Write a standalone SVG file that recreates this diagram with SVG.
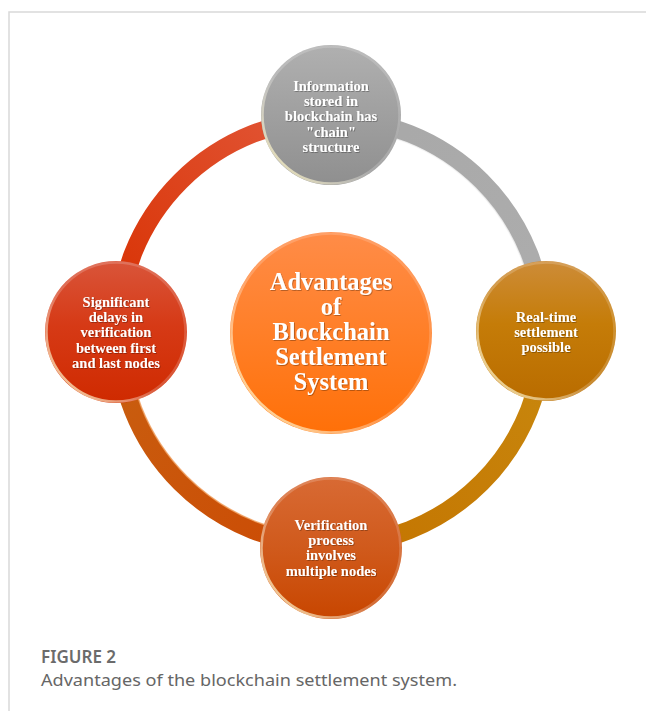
<svg xmlns="http://www.w3.org/2000/svg" width="646" height="711" viewBox="0 0 646 711">
<style>
.frame{stroke:#d9d9d9;stroke-width:1.5;fill:none}
.arc{fill:none;stroke-width:18;stroke-linecap:butt}
.hl{fill:none;stroke-width:1.5;opacity:0.8}
.lbl{font-family:"Liberation Serif","Times New Roman",serif;font-weight:bold;fill:#ffffff;text-anchor:middle;font-size:14.5px}
.big{font-size:24.5px}
.rim{fill:none;stroke-width:2.5}
.fig{font-family:"Noto Sans","Open Sans",sans-serif;font-size:17px;font-weight:600;fill:#6b6b6b}
.cap{font-family:"Noto Sans","Open Sans",sans-serif;font-size:16px;fill:#666666}
</style>
<defs>
<linearGradient id="gGray" x1="0" y1="0" x2="0" y2="1"><stop offset="0" stop-color="#b0b0b0"/><stop offset="1" stop-color="#8f8f8f"/></linearGradient>
<linearGradient id="gRed" x1="0" y1="0" x2="0" y2="1"><stop offset="0" stop-color="#d9553a"/><stop offset="0.45" stop-color="#d63a16"/><stop offset="1" stop-color="#cf2a00"/></linearGradient>
<linearGradient id="gGold" x1="0" y1="0" x2="0" y2="1"><stop offset="0" stop-color="#cd8c38"/><stop offset="0.45" stop-color="#c57c08"/><stop offset="1" stop-color="#b96c00"/></linearGradient>
<linearGradient id="gBot" x1="0" y1="0" x2="0" y2="1"><stop offset="0" stop-color="#d86a34"/><stop offset="0.5" stop-color="#d05a1c"/><stop offset="1" stop-color="#c84600"/></linearGradient>
<linearGradient id="gCen" x1="0" y1="0" x2="0" y2="1"><stop offset="0" stop-color="#ff8c48"/><stop offset="0.5" stop-color="#ff7f28"/><stop offset="1" stop-color="#ff7008"/></linearGradient>
<linearGradient id="gRim" x1="1" y1="0" x2="0" y2="1"><stop offset="0" stop-color="#ffffff" stop-opacity="0.15"/><stop offset="0.55" stop-color="#ffffff" stop-opacity="0.2"/><stop offset="1" stop-color="#fff2b0" stop-opacity="0.95"/></linearGradient>
<linearGradient id="aRed" gradientUnits="userSpaceOnUse" x1="331" y1="119" x2="118" y2="332"><stop offset="0" stop-color="#e2583a"/><stop offset="1" stop-color="#d83000"/></linearGradient>
<linearGradient id="aGray" gradientUnits="userSpaceOnUse" x1="331" y1="119" x2="544" y2="332"><stop offset="0" stop-color="#a8a8a8"/><stop offset="1" stop-color="#adadad"/></linearGradient>
<linearGradient id="aGold" gradientUnits="userSpaceOnUse" x1="544" y1="332" x2="331" y2="545"><stop offset="0" stop-color="#c8880e"/><stop offset="1" stop-color="#c47400"/></linearGradient>
<linearGradient id="aBot" gradientUnits="userSpaceOnUse" x1="331" y1="545" x2="118" y2="332"><stop offset="0" stop-color="#cc4a04"/><stop offset="1" stop-color="#c86010"/></linearGradient>
<filter id="ts" x="-10%" y="-10%" width="120%" height="130%"><feDropShadow dx="0.8" dy="0.8" stdDeviation="0.6" flood-color="#000" flood-opacity="0.35"/></filter>
</defs>
<rect width="646" height="711" fill="#ffffff"/>
<path class="frame" d="M9,711 V12 H646"/>
<g id="connectors">
<path class="arc" stroke="url(#aRed)" d="M118,332 A213,213 0 0 1 331,119"/>
<path class="arc" stroke="url(#aGray)" d="M331,119 A213,213 0 0 1 544,332"/>
<path class="hl" stroke="#f4f4f4" d="M331,128 A204,204 0 0 1 535,332"/>
<path class="arc" stroke="url(#aGold)" d="M544,332 A213,213 0 0 1 331,545"/>
<path class="arc" stroke="url(#aBot)" d="M331,545 A213,213 0 0 1 118,332"/>
<path class="hl" stroke="#f0a060" d="M331,536 A204,204 0 0 1 127,332"/>
</g>
<g id="node-top">
<circle cx="331" cy="115" r="70" fill="url(#gGray)"/>
<circle class="rim" cx="331" cy="115" r="68.5" stroke="url(#gRim)"/>
<g class="lbl" filter="url(#ts)">
<text x="331" y="91">Information</text>
<text x="331" y="106.2">stored in</text>
<text x="331" y="121.4">blockchain has</text>
<text x="331" y="136.6">"chain"</text>
<text x="331" y="151.8">structure</text>
</g>
</g>
<g id="node-left">
<circle cx="116" cy="332" r="71" fill="url(#gRed)"/>
<circle class="rim" cx="116" cy="332" r="69.5" stroke="url(#gRim)"/>
<g class="lbl" filter="url(#ts)">
<text x="116" y="306.5">Significant</text>
<text x="116" y="321.9">delays in</text>
<text x="116" y="337.3">verification</text>
<text x="116" y="352.7">between first</text>
<text x="116" y="368.1">and last nodes</text>
</g>
</g>
<g id="node-right">
<circle cx="546" cy="331" r="70" fill="url(#gGold)"/>
<circle class="rim" cx="546" cy="331" r="68.5" stroke="url(#gRim)"/>
<g class="lbl" filter="url(#ts)">
<text x="546" y="321.5">Real-time</text>
<text x="546" y="336.9">settlement</text>
<text x="546" y="352.3">possible</text>
</g>
</g>
<g id="node-bottom">
<circle cx="331" cy="548" r="71" fill="url(#gBot)"/>
<circle class="rim" cx="331" cy="548" r="69.5" stroke="url(#gRim)"/>
<g class="lbl" filter="url(#ts)">
<text x="331" y="530">Verification</text>
<text x="331" y="545.2">process</text>
<text x="331" y="560.4">involves</text>
<text x="331" y="575.6">multiple nodes</text>
</g>
</g>
<g id="node-center">
<circle cx="331" cy="333" r="101" fill="url(#gCen)"/>
<circle class="rim" cx="331" cy="333" r="99.5" stroke="url(#gRim)"/>
<g class="lbl big" filter="url(#ts)">
<text x="331" y="290">Advantages</text>
<text x="331" y="315">of</text>
<text x="331" y="340">Blockchain</text>
<text x="331" y="365">Settlement</text>
<text x="331" y="390">System</text>
</g>
</g>
<g id="caption">
<text class="fig" x="41" y="663">FIGURE 2</text>
<text class="cap" x="41" y="686" textLength="416" lengthAdjust="spacingAndGlyphs">Advantages of the blockchain settlement system.</text>
</g>
</svg>
